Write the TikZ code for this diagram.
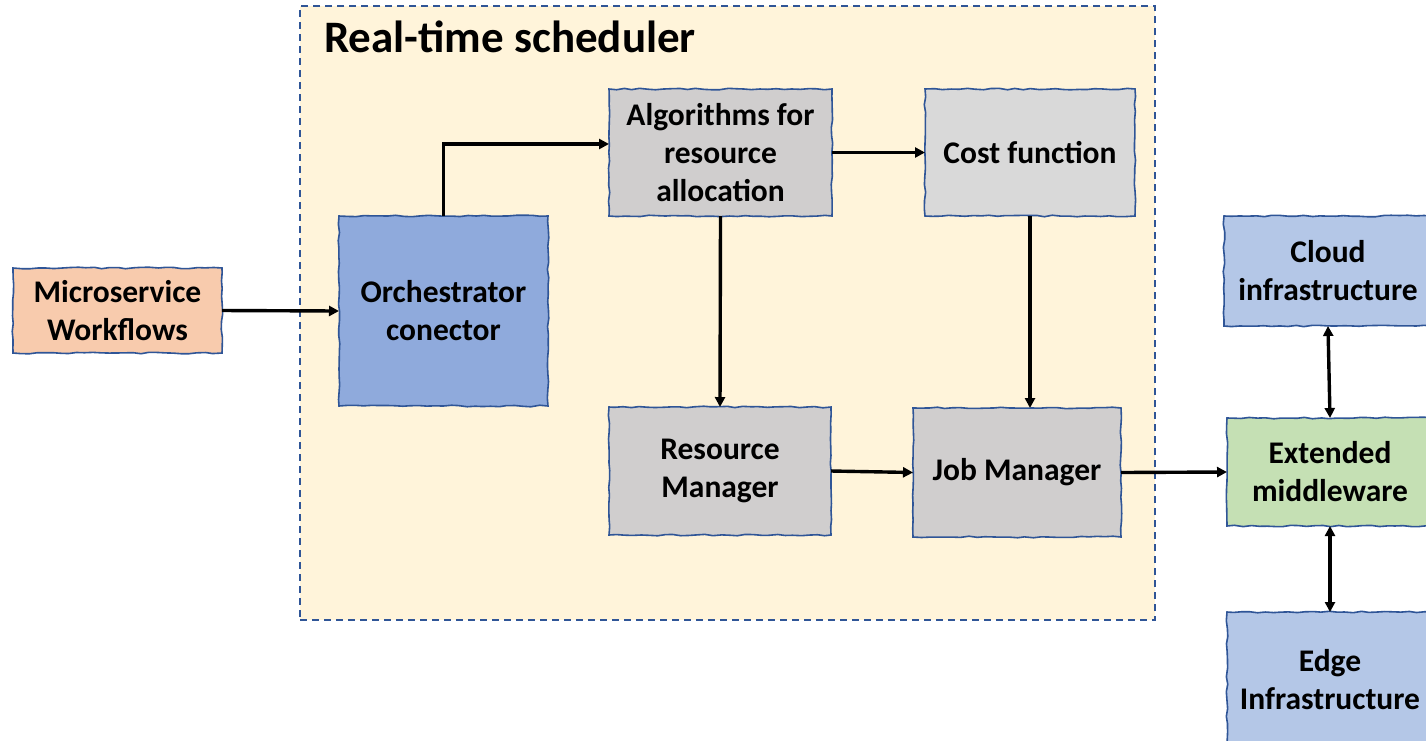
\documentclass[tikz,border=0pt]{standalone}
\usepackage{fontspec}
\setmainfont{Carlito}
\usetikzlibrary{arrows.meta,decorations.pathmorphing,calc}
\definecolor{peach}{HTML}{F8CBAD}
\definecolor{orchblue}{HTML}{8FAADC}
\definecolor{graybox}{HTML}{D0CECE}
\definecolor{lightgray}{HTML}{D9D9D9}
\definecolor{lightblue}{HTML}{B4C7E7}
\definecolor{lightgreen}{HTML}{C5E0B4}
\definecolor{cream}{HTML}{FFF4DA}
\definecolor{edgeblue}{HTML}{2F5597}
\tikzset{
  box/.style={draw=edgeblue, line width=1.6pt, inner sep=0pt, outer sep=0pt,
    align=center, font=\fontsize{31.5}{38}\selectfont\bfseries,
    decorate, decoration={random steps, segment length=8pt, amplitude=0.8pt}},
  conn/.style={line width=3.4pt, -{Triangle[length=10pt,width=10pt]}},
  biconn/.style={line width=3.4pt, {Triangle[length=10pt,width=10pt]}-{Triangle[length=10pt,width=10pt]}}
}
\begin{document}
\begin{tikzpicture}[x=1pt,y=-1pt]
\useasboundingbox (0,0) rectangle (1426,740);
\clip (0,0) rectangle (1426,740);
\fill[white] (0,0) rectangle (1426,740);
% container
\node[draw=edgeblue, fill=cream, dash pattern=on 7pt off 5pt, line width=1.4pt, minimum width=855pt, minimum height=614pt, inner sep=0pt] (sched) at (727.5,313) {};
\node[anchor=base west, font=\fontsize{45}{52}\selectfont\bfseries, inner sep=0pt] (title) at (324,52) {Real-time scheduler};
% boxes
\node[box, fill=peach, minimum width=209pt, minimum height=85pt] (ms) at (117.5,310.5) {Microservice\\Workflows};
\node[box, fill=orchblue, minimum width=209pt, minimum height=190pt] (orch) at (443.5,311) {Orchestrator\\conector};
\node[box, fill=graybox, minimum width=223pt, minimum height=127pt] (alg) at (720.5,152.5) {Algorithms for\\resource\\allocation};
\node[box, fill=lightgray, minimum width=210pt, minimum height=127pt] (cost) at (1030,152.5) {Cost function};
\node[box, fill=graybox, minimum width=222pt, minimum height=128pt] (res) at (720,471) {Resource\\Manager};
\node[box, fill=graybox, minimum width=208pt, minimum height=129pt] (job) at (1017,472.5) {Job Manager};
\node[box, fill=lightblue, minimum width=208pt, minimum height=110pt] (cloud) at (1328,271) {Cloud\\infrastructure};
\node[box, fill=lightgreen, minimum width=206pt, minimum height=108pt] (ext) at (1330,472) {Extended\\middleware};
\node[box, fill=lightblue, minimum width=206pt, minimum height=136pt] (edge) at (1330,680) {Edge\\Infrastructure};
% connectors
\draw[conn] (ms.east) -- (orch.west);
\draw[conn] (orch.north) |- ([yshift=8.5pt]alg.west);
\draw[conn] (alg.east) -- (cost.west);
\draw[conn] (alg.south) -- (res.north);
\draw[conn] (cost.south) -- (cost.south |- job.north);
\draw[conn] (res.east) -- (job.west);
\draw[conn] (job.east) -- (ext.west);
\draw[biconn] (cloud.south) -- (ext.north);
\draw[biconn] (ext.south) -- (edge.north);
\end{tikzpicture}
\end{document}
